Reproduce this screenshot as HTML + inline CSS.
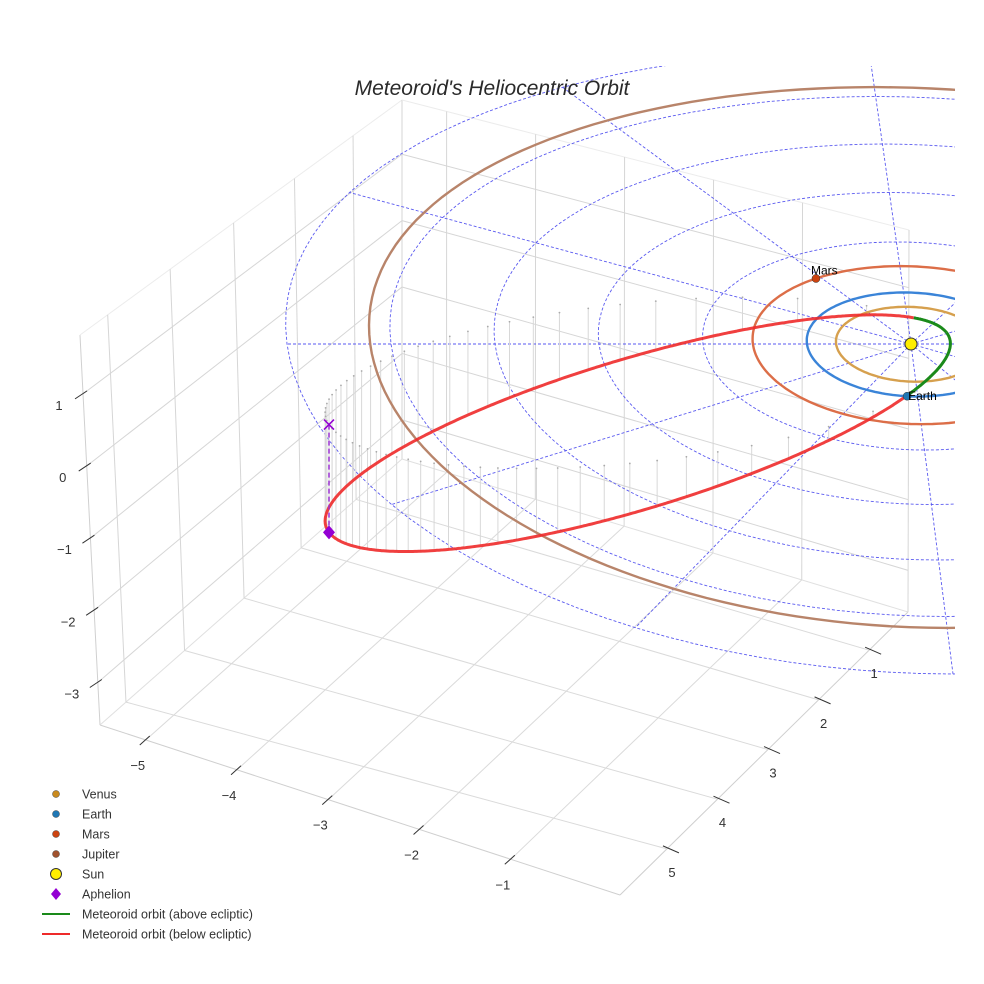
<!DOCTYPE html>
<html><head><meta charset="utf-8"><style>
html,body{margin:0;padding:0;background:#fff;}
svg{display:block;font-family:"Liberation Sans",sans-serif;}
</style></head><body>
<svg id="chart" width="984" height="984" viewBox="0 0 984 984" xmlns="http://www.w3.org/2000/svg">
<defs><clipPath id="sceneClip"><rect x="0" y="66" width="955" height="900"/></clipPath></defs>
<rect x="0" y="0" width="984" height="984" fill="#fff"/>
<g id="box"></g>
<g id="scene" clip-path="url(#sceneClip)"></g>
<g id="axes"></g>
<text x="492" y="95" text-anchor="middle" font-size="21" font-style="italic" fill="#2a2a2a">Meteoroid's Heliocentric Orbit</text>
<g id="legend"></g>
</svg>
<script>
// ---- data ----
const planetNames = ['Venus', 'Earth', 'Mars', 'Jupiter'];
const planetRadiiAU = [0.72, 1.0, 1.52, 5.2];
const planetAngleDeg = [20, 96, 237, 10];
const gridRadiiAU = [1, 2, 3, 4, 5, 6];
const gridSpokeDeg = [0, 30, 60, 90, 120, 150, 180, 210, 240, 270, 300, 330];
const meteoroidAphelionAU = [5.9];
const meteoroidEccentricity = [0.885];
const meteoroidApsidesDeg = [165];
const meteoroidAphelionZ = [-1.54];
const meteoroidNodeNormalDeg = [22];
const xTicks = [-5, -4, -3, -2, -1];
const yTicks = [1, 2, 3, 4, 5];
const zTicks = [1, 0, -1, -2, -3];

const planetOrbitColors = ['#d6a04e', '#3a84d8', '#dc6e48', '#b8846a'];
const planetDotColors = ['#c98a1e', '#1f77b4', '#cc4411', '#a0522d'];

const NS = 'http://www.w3.org/2000/svg';
function mk(tag, attrs, parent) {
  const e = document.createElementNS(NS, tag);
  for (const k in attrs) e.setAttribute(k, attrs[k]);
  parent.appendChild(e);
  return e;
}
// ---- projection (ecliptic AU -> screen) ----
const SX = 911, SY = 344;
function proj(x, y, z) {
  return [SX + 104 * x + 7 * y, SY + 52 * y + 0.5 * y * y - 70 * z];
}
const scene = document.getElementById('scene');
const box = document.getElementById('box');
const axes = document.getElementById('axes');

// ---- box / walls (screen-space frame) ----
const L = [100, 725], BL = [402, 459], F = [620, 895], R = [908, 612];
const Lt = [80, 335], BLt = [402, 100], Rt = [909, 230];
function lerp(a, b, t) { return [a[0] + (b[0] - a[0]) * t, a[1] + (b[1] - a[1]) * t]; }
function gl(p, q, c, name) {
  const l = mk('line', {x1: p[0], y1: p[1], x2: q[0], y2: q[1], stroke: c || '#d6d6d6', 'stroke-width': 1}, box);
  
  
}
const xFrac = x => 0.088 + 0.1755 * (x + 5);
const yFracFR = y => 0.163 + 0.1755 * (5 - y);
const yFracLeft = [0.848, 0.666, 0.477, 0.28, 0.086];
const zFrac = z => 0.151 + 0.185 * (1 - z);
// floor
gl(L, F, '#cfcfcf', 'floor-edge'); gl(F, R, '#cfcfcf', 'floor-edge'); gl(L, BL, '#e0e0e0', 'floor-edge'); gl(BL, R, '#e0e0e0', 'floor-edge');
xTicks.forEach(x => gl(lerp(L, F, xFrac(x)), lerp(BL, R, xFrac(x)), '#dadada', 'floor-x-grid'));
yTicks.forEach((y, i) => gl(lerp(L, BL, yFracLeft[i]), lerp(F, R, yFracFR(y)), '#dadada', 'floor-y-grid'));
// left wall
gl(Lt, L, '#d0d0d0', 'wall-edge'); gl(Lt, BLt, '#ececec', 'wall-edge'); gl(BLt, BL, '#d6d6d6', 'wall-edge');
yTicks.forEach((y, i) => gl(lerp(Lt, BLt, yFracLeft[i]), lerp(L, BL, yFracLeft[i]), '#d6d6d6', 'left-wall-grid'));
zTicks.forEach(z => gl(lerp(Lt, L, zFrac(z)), lerp(BLt, BL, zFrac(z)), '#d6d6d6', 'left-wall-z-grid'));
// back wall
gl(BLt, Rt, '#ececec', 'wall-edge'); gl(Rt, R, '#d6d6d6', 'wall-edge');
xTicks.forEach(x => gl(lerp(BLt, Rt, xFrac(x)), lerp(BL, R, xFrac(x)), '#d6d6d6', 'back-wall-grid'));
zTicks.forEach(z => gl(lerp(BLt, BL, zFrac(z)), lerp(Rt, R, zFrac(z)), '#d6d6d6', 'back-wall-z-grid'));

// ---- axis ticks & labels ----
function tickLabel(txt, x, y, name) {
  const t = mk('text', {x: x, y: y, 'font-size': 13, fill: '#333', 'text-anchor': 'middle'}, axes);
  t.textContent = txt;
  
  
}
function tickMark(p, dx, dy) {
  const l = mk('line', {x1: p[0], y1: p[1], x2: p[0] + dx, y2: p[1] + dy, stroke: '#333', 'stroke-width': 1}, axes);
  
  
}
const fmt = v => v < 0 ? '\u2212' + Math.abs(v) : String(v);
zTicks.forEach(z => {
  const p = lerp(Lt, L, zFrac(z));
  tickMark([p[0] + 4, p[1] - 3], -12, 8);
  tickLabel(fmt(z), p[0] - 24 - (z < 0 ? 2 : 0), p[1] + 16, 'z-tick-label');
});
xTicks.forEach(x => {
  const p = lerp(L, F, xFrac(x));
  tickMark([p[0] + 4, p[1] - 4], -10, 9);
  tickLabel(fmt(x), p[0] - 8, p[1] + 30, 'x-tick-label');
});
yTicks.forEach(y => {
  const p = lerp(F, R, yFracFR(y));
  tickMark([p[0] - 4, p[1] - 3], 16, 7);
  tickLabel(fmt(y), p[0] + 5, p[1] + 28, 'y-tick-label');
});

// ---- ecliptic grid ----
const D2R = Math.PI / 180;
function pathFrom(pts) { return 'M' + pts.map(p => p[0].toFixed(1) + ',' + p[1].toFixed(1)).join('L'); }
gridRadiiAU.forEach(r => {
  const pts = [];
  for (let a = 0; a <= 360; a += 3) pts.push(proj(r * Math.cos(a * D2R), r * Math.sin(a * D2R), 0));
  const p = mk('path', {d: pathFrom(pts), fill: 'none', stroke: '#5a5af0', 'stroke-width': 0.9, 'stroke-dasharray': '3,2'}, scene);
  
  
});
const rMax = gridRadiiAU[gridRadiiAU.length - 1];
gridSpokeDeg.forEach(a => {
  const q = proj(rMax * Math.cos(a * D2R), rMax * Math.sin(a * D2R), 0);
  const l = mk('line', {x1: SX, y1: SY, x2: q[0], y2: q[1], stroke: '#5a5af0', 'stroke-width': 0.9, 'stroke-dasharray': '3,2'}, scene);
  
  
});

// ---- meteoroid orbit ----
const Q = meteoroidAphelionAU[0], ecc = meteoroidEccentricity[0];
const a = Q / (1 + ecc), b = a * Math.sqrt(1 - ecc * ecc);
const dAng = meteoroidApsidesDeg[0] * D2R, nAng = dAng + Math.PI / 2;
const wAng = meteoroidNodeNormalDeg[0] * D2R;
const kz = meteoroidAphelionZ[0] / (Q * Math.cos(wAng));
function orbitPoint(E) {
  const along = a * (ecc - Math.cos(E)), perp = b * Math.sin(E);
  const x = along * Math.cos(dAng) + perp * Math.cos(nAng);
  const y = along * Math.sin(dAng) + perp * Math.sin(nAng);
  const z = kz * (along * Math.cos(wAng) + perp * Math.sin(wAng));
  return [x, y, z];
}
// stems (uniform in mean anomaly)
for (let i = 0; i < 64; i++) {
  const M = i / 64 * 2 * Math.PI;
  let E = M;
  for (let k = 0; k < 30; k++) E = M + ecc * Math.sin(E);
  const o = orbitPoint(E);
  if (o[2] >= 0) continue;
  const p1 = proj(o[0], o[1], o[2]), p0 = proj(o[0], o[1], 0);
  const l = mk('line', {x1: p0[0], y1: p0[1], x2: p1[0], y2: p1[1], stroke: '#d8d8d8', 'stroke-width': 1}, scene);
  
  
  const c = mk('circle', {cx: p0[0], cy: p0[1], r: 0.9, fill: '#aaa'}, scene);
  
  
}
// planet orbits
planetRadiiAU.forEach((r, i) => {
  const pts = [];
  for (let t = 0; t <= 360; t += 2) pts.push(proj(r * Math.cos(t * D2R), r * Math.sin(t * D2R), 0));
  const p = mk('path', {d: pathFrom(pts), fill: 'none', stroke: planetOrbitColors[i], 'stroke-width': 2.4}, scene);
  
  
});
// meteoroid orbit segments
let seg = [], segAbove = null;
function flush() {
  if (seg.length > 1) {
    const p = mk('path', {d: pathFrom(seg), fill: 'none', stroke: segAbove ? '#1a8a1a' : '#ee2a2a', 'stroke-width': 3, 'stroke-opacity': segAbove ? 1 : 0.9, 'stroke-linejoin': 'round'}, scene);
    
    
  }
}
for (let i = 0; i <= 720; i++) {
  const o = orbitPoint(i / 720 * 2 * Math.PI);
  const above = o[2] >= 0;
  const sp = proj(o[0], o[1], o[2]);
  if (segAbove === null) segAbove = above;
  if (above !== segAbove) { seg.push(sp); flush(); seg = [sp]; segAbove = above; }
  else seg.push(sp);
}
flush();
// aphelion
const ap = orbitPoint(Math.PI);
const apS = proj(ap[0], ap[1], ap[2]), apE = proj(ap[0], ap[1], 0);
let el = mk('line', {x1: apE[0], y1: apE[1], x2: apS[0], y2: apS[1], stroke: '#9a30d0', 'stroke-width': 1.5, 'stroke-dasharray': '5,3'}, scene);


el = mk('path', {d: `M${apE[0]-5},${apE[1]-5}L${apE[0]+5},${apE[1]+5}M${apE[0]-5},${apE[1]+5}L${apE[0]+5},${apE[1]-5}`, stroke: '#9400d3', 'stroke-width': 1.5}, scene);


el = mk('path', {d: `M${apS[0]},${apS[1]-7}L${apS[0]+6},${apS[1]}L${apS[0]},${apS[1]+7}L${apS[0]-6},${apS[1]}Z`, fill: '#9400d3'}, scene);


// planets
planetRadiiAU.forEach((r, i) => {
  const p = proj(r * Math.cos(planetAngleDeg[i] * D2R), r * Math.sin(planetAngleDeg[i] * D2R), 0);
  const c = mk('circle', {cx: p[0], cy: p[1], r: 4, fill: planetDotColors[i], stroke: '#333', 'stroke-width': 0.5}, scene);
  
  
  const t = mk('text', {x: p[0] - 5, y: p[1] - 4, 'font-size': 12, fill: '#000'}, scene);
  t.textContent = planetNames[i];
  
  
  if (planetNames[i] === 'Earth') { t.setAttribute('x', p[0] + 1); t.setAttribute('y', p[1] + 4); }
});
// sun
el = mk('circle', {cx: SX, cy: SY, r: 6, fill: '#ffee00', stroke: '#333', 'stroke-width': 1}, scene);



// ---- legend ----
const legend = document.getElementById('legend');
const legendItems = [
  ['Venus', 'dot', '#c98a1e'], ['Earth', 'dot', '#1f77b4'], ['Mars', 'dot', '#cc4411'], ['Jupiter', 'dot', '#a0522d'],
  ['Sun', 'sun', '#ffee00'], ['Aphelion', 'diamond', '#9400d3'],
  ['Meteoroid orbit (above ecliptic)', 'line', '#1a8a1a'], ['Meteoroid orbit (below ecliptic)', 'line', '#ee2a2a']
];
legendItems.forEach((it, i) => {
  const y = 794 + i * 20;
  const g = mk('g', {}, legend);
  
  
  if (it[1] === 'dot') mk('circle', {cx: 56, cy: y, r: 3.5, fill: it[2], stroke: '#444', 'stroke-width': 0.5}, g);
  else if (it[1] === 'sun') mk('circle', {cx: 56, cy: y, r: 5.5, fill: it[2], stroke: '#333', 'stroke-width': 1}, g);
  else if (it[1] === 'diamond') mk('path', {d: `M56,${y-6}L61,${y}L56,${y+6}L51,${y}Z`, fill: it[2]}, g);
  else mk('line', {x1: 42, y1: y, x2: 70, y2: y, stroke: it[2], 'stroke-width': 2}, g);
  const t = mk('text', {x: 82, y: y + 4.5, 'font-size': 12.5, fill: '#333'}, g);
  t.textContent = it[0];
});
</script>
</body></html>
